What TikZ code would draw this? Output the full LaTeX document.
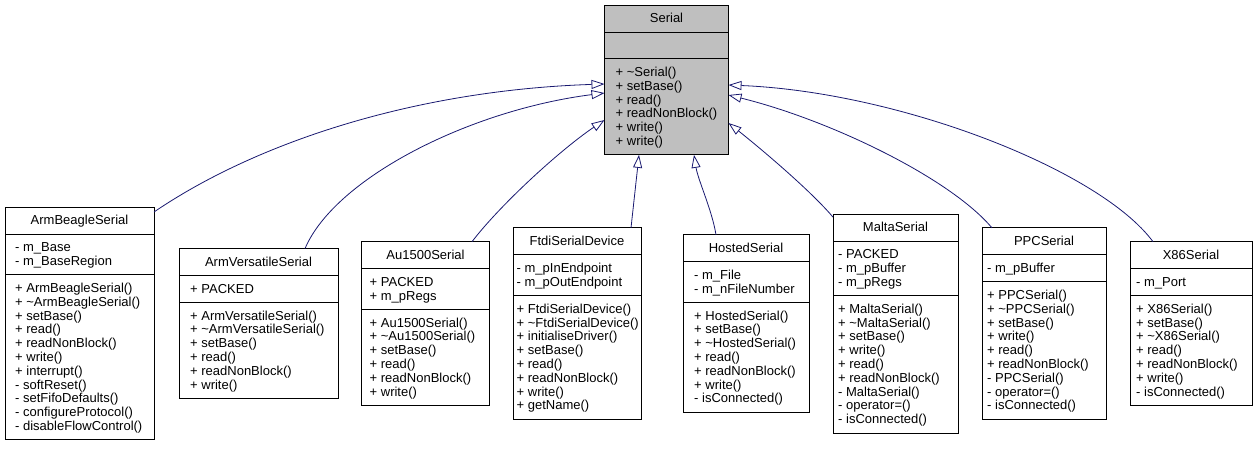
\documentclass[tikz,border=0pt]{standalone}
\usepackage{fontspec}
\setmainfont{Liberation Sans}
\usetikzlibrary{arrows.meta}
\definecolor{edgeblue}{HTML}{191970}
\definecolor{basefill}{HTML}{BFBFBF}
\tikzset{
  field/.style={draw=black, line width=0.9pt, fill=white, inner sep=0pt, outer sep=0pt, anchor=north west},
  ttl/.style={font=\fontsize{13}{13.8}\selectfont, inner sep=0pt, anchor=base},
  txt/.style={font=\fontsize{13}{13.8}\selectfont, inner sep=0pt, anchor=base west},
  inh/.style={draw=edgeblue, line width=0.8pt, -{Triangle[open, length=13pt, width=9pt]}},
}
% #1 name, #2 x, #3 top, #4 width, #5 fill, #6 title
\newcommand\umlhead[6]{%
  \node[field, fill=#5, minimum width=#4pt, minimum height=26.95pt] (#1) at (#2,#3) {};
  \node[ttl] (#1-t) at ([yshift=-17.675pt]#1.north) {#6};
}
% #1 name, #2 node above, #3 width, #4 number of lines, #5 inset, #6 list
\newcommand\umlfield[7]{%
  \pgfmathsetmacro\fh{13.15+13.8*#4}%
  \node[field, fill=#7, minimum width=#3pt, minimum height=\fh pt] (#1) at (#2.south west) {};
  \foreach \t [count=\i from 0] in {#6} {
    \pgfmathsetmacro\dy{6.575+13.8*\i+6.9+4.2}
    \node[txt] (#1-\i) at ([xshift=#5pt, yshift=-\dy pt]#1.north west) {\t};
  }
}
\begin{document}
\begin{tikzpicture}[x=1pt,y=-1pt]
\useasboundingbox (0,0) rectangle (1259,448);

% Serial
\umlhead{ser}{604.5}{5}{124}{basefill}{Serial}
\node[field, fill=basefill, minimum width=124pt, minimum height=26.95pt] (sera) at (ser.south west) {};
\umlfield{serm}{sera}{124}{6}{11}{{+ \textasciitilde Serial()},{+ setBase()},{+ read()},{+ readNonBlock()},{+ write()},{+ write()}}{basefill}

% ArmBeagleSerial
\umlhead{ab}{5}{207.2}{149}{white}{ArmBeagleSerial}
\umlfield{aba}{ab}{149}{2}{10}{{- m\_Base},{- m\_BaseRegion}}{white}
\umlfield{abm}{aba}{149}{11}{10}{{+ ArmBeagleSerial()},{+ \textasciitilde ArmBeagleSerial()},{+ setBase()},{+ read()},{+ readNonBlock()},{+ write()},{+ interrupt()},{- softReset()},{- setFifoDefaults()},{- configureProtocol()},{- disableFlowControl()}}{white}

% ArmVersatileSerial
\umlhead{av}{179}{248.6}{159}{white}{ArmVersatileSerial}
\umlfield{ava}{av}{159}{1}{11}{{+ PACKED}}{white}
\umlfield{avm}{ava}{159}{6}{11}{{+ ArmVersatileSerial()},{+ \textasciitilde ArmVersatileSerial()},{+ setBase()},{+ read()},{+ readNonBlock()},{+ write()}}{white}

% Au1500Serial
\umlhead{au}{361.5}{241.7}{128}{white}{Au1500Serial}
\umlfield{aua}{au}{128}{2}{8}{{+ PACKED},{+ m\_pRegs}}{white}
\umlfield{aum}{aua}{128}{6}{8}{{+ Au1500Serial()},{+ \textasciitilde Au1500Serial()},{+ setBase()},{+ read()},{+ readNonBlock()},{+ write()}}{white}

% FtdiSerialDevice
\umlhead{ft}{513}{227.9}{128}{white}{FtdiSerialDevice}
\umlfield{fta}{ft}{128}{2}{3.5}{{- m\_pInEndpoint},{- m\_pOutEndpoint}}{white}
\umlfield{ftm}{fta}{128}{8}{3.5}{{+ FtdiSerialDevice()},{+ \textasciitilde FtdiSerialDevice()},{+ initialiseDriver()},{+ setBase()},{+ read()},{+ readNonBlock()},{+ write()},{+ getName()}}{white}

% HostedSerial
\umlhead{ho}{683}{234.8}{126}{white}{HostedSerial}
\umlfield{hoa}{ho}{126}{2}{11}{{- m\_File},{- m\_nFileNumber}}{white}
\umlfield{hom}{hoa}{126}{7}{11}{{+ HostedSerial()},{+ setBase()},{+ \textasciitilde HostedSerial()},{+ read()},{+ readNonBlock()},{+ write()},{- isConnected()}}{white}

% MaltaSerial
\umlhead{ma}{833}{214.1}{125}{white}{MaltaSerial}
\umlfield{maa}{ma}{125}{3}{5}{{- PACKED},{- m\_pBuffer},{- m\_pRegs}}{white}
\umlfield{mam}{maa}{125}{9}{5}{{+ MaltaSerial()},{+ \textasciitilde MaltaSerial()},{+ setBase()},{+ write()},{+ read()},{+ readNonBlock()},{- MaltaSerial()},{- operator=()},{- isConnected()}}{white}

% PPCSerial
\umlhead{pp}{982}{227.9}{124}{white}{PPCSerial}
\umlfield{ppa}{pp}{124}{1}{5}{{- m\_pBuffer}}{white}
\umlfield{ppm}{ppa}{124}{9}{5}{{+ PPCSerial()},{+ \textasciitilde PPCSerial()},{+ setBase()},{+ write()},{+ read()},{+ readNonBlock()},{- PPCSerial()},{- operator=()},{- isConnected()}}{white}

% X86Serial
\umlhead{xe}{1130}{241.7}{122}{white}{X86Serial}
\umlfield{xea}{xe}{122}{1}{6}{{- m\_Port}}{white}
\umlfield{xem}{xea}{122}{7}{6}{{+ X86Serial()},{+ setBase()},{+ \textasciitilde X86Serial()},{+ read()},{+ readNonBlock()},{+ write()},{- isConnected()}}{white}

% inheritance connectors
\draw[inh] ([yshift=-4.8pt]ab.north east) .. controls (260,140) and (420,90) .. ([yshift=-25.1pt]serm.north west);
\draw[inh] ([xshift=126pt]av.north west) .. controls (335,178) and (470,110) .. ([yshift=-34.1pt]serm.north west);
\draw[inh] ([xshift=110.5pt]au.north west) .. controls (500,205) and (560,150) .. ([yshift=-61.1pt]serm.north west);
\draw[inh] ([xshift=118pt]ft.north west) -- ([xshift=34.5pt]serm.south west);
\draw[inh] ([xshift=33pt]ho.north west) .. controls (712,210) and (698,180) .. ([xshift=89.5pt]serm.south west);
\draw[inh] ([yshift=-3pt]ma.north west) .. controls (810,190) and (760,148) .. ([yshift=-64.1pt]serm.north east);
\draw[inh] ([xshift=10pt]pp.north west) .. controls (950,178) and (830,120) .. ([yshift=-36.1pt]serm.north east);
\draw[inh] ([xshift=23pt]xe.north west) .. controls (1100,170) and (900,92) .. ([yshift=-26.1pt]serm.north east);
\end{tikzpicture}
\end{document}
